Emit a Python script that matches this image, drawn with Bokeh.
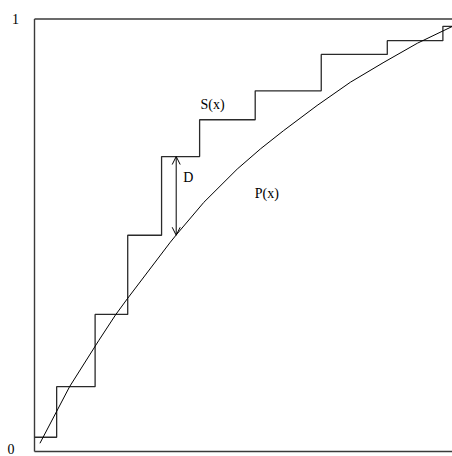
from bokeh.plotting import figure
from bokeh.models import Range1d, Arrow, OpenHead
from bokeh.core.properties import value
from bokeh.embed import file_html
from bokeh.resources import INLINE

# ---- data ----
# empirical cumulative distribution S(x): step edges and levels
step_x = [0.0, 0.053, 0.145, 0.223, 0.304, 0.395, 0.528, 0.686, 0.844, 0.977, 1.0]
step_y = [0.033, 0.150, 0.317, 0.500, 0.682, 0.767, 0.834, 0.918, 0.950, 0.983, 0.983]

# model distribution P(x)
curve_x = [0.013, 0.084, 0.154, 0.194, 0.222, 0.325, 0.341, 0.405, 0.485, 0.541, 0.596, 0.676, 0.756, 0.836, 0.916, 1.0]
curve_y = [0.019, 0.150, 0.257, 0.316, 0.353, 0.484, 0.503, 0.576, 0.653, 0.700, 0.742, 0.800, 0.854, 0.900, 0.944, 0.983]

# D: maximum distance between S and P
d_x = 0.339
d_top = 0.682
d_bottom = 0.500

# axis end labels
tick_values = [0.0, 1.0]
tick_labels = ["0", "1"]

# curve / quantity labels
name_labels = ["S(x)", "P(x)", "D"]
name_x = [0.397, 0.527, 0.356]
name_y = [0.803, 0.597, 0.633]

# ---- layout (pixel mapping of the box) ----
W, H = 452, 456
left_px, sx = 34, 418.0     # x=0 at canvas px 34, 418 px per unit
base_px, sy = 451, 432.5    # y=0 at canvas px 451 (from top), 432.5 px per unit

x0 = -left_px / sx
x1 = (W - left_px) / sx
y1 = base_px / sy
y0 = (base_px - H) / sy

p = figure(width=W, height=H, output_backend="svg", toolbar_location=None,
           x_range=Range1d(x0, x1), y_range=Range1d(y0, y1), min_border=0)
p.axis.visible = False
p.grid.visible = False
p.outline_line_color = None
p.background_fill_color = "white"
p.border_fill_color = "white"

frame_col = "#3a3a3a"
# frame: left, top, bottom
p.line([0, 0], [0, 1], line_color=frame_col, line_width=1.4)
p.line([0, x1], [1, 1], line_color=frame_col, line_width=1.4)
p.line([0, x1], [0, 0], line_color=frame_col, line_width=1.4)

# staircase S(x)
p.step(step_x, step_y, mode="after", line_color="#2a2a2a", line_width=1.3)

# curve P(x)
p.line(curve_x, curve_y, line_color="black", line_width=1.0)

# D arrow
p.add_layout(Arrow(start=OpenHead(size=8, line_width=1, line_color="black"),
                   end=OpenHead(size=8, line_width=1, line_color="black"),
                   x_start=d_x, y_start=d_top, x_end=d_x, y_end=d_bottom,
                   line_width=1, line_color="black"))

font = value("Liberation Serif")
p.text(x=name_x, y=name_y, text=name_labels, text_font=font, text_font_size="14px",
       text_baseline="alphabetic", text_align="left", text_color="black")

# end labels 0 and 1 at left of the frame
p.text(x=[(7 - left_px) / sx], y=[(base_px - 453) / sy], text=[tick_labels[0]], text_font=font,
       text_font_size="14px", text_baseline="bottom", text_align="left", text_color="black")
p.text(x=[(11.5 - left_px) / sx], y=[(base_px - 18) / sy], text=[tick_labels[1]], text_font=font,
       text_font_size="14px", text_baseline="alphabetic", text_align="left", text_color="black")

open("out.html", "w").write(file_html(p, INLINE))
